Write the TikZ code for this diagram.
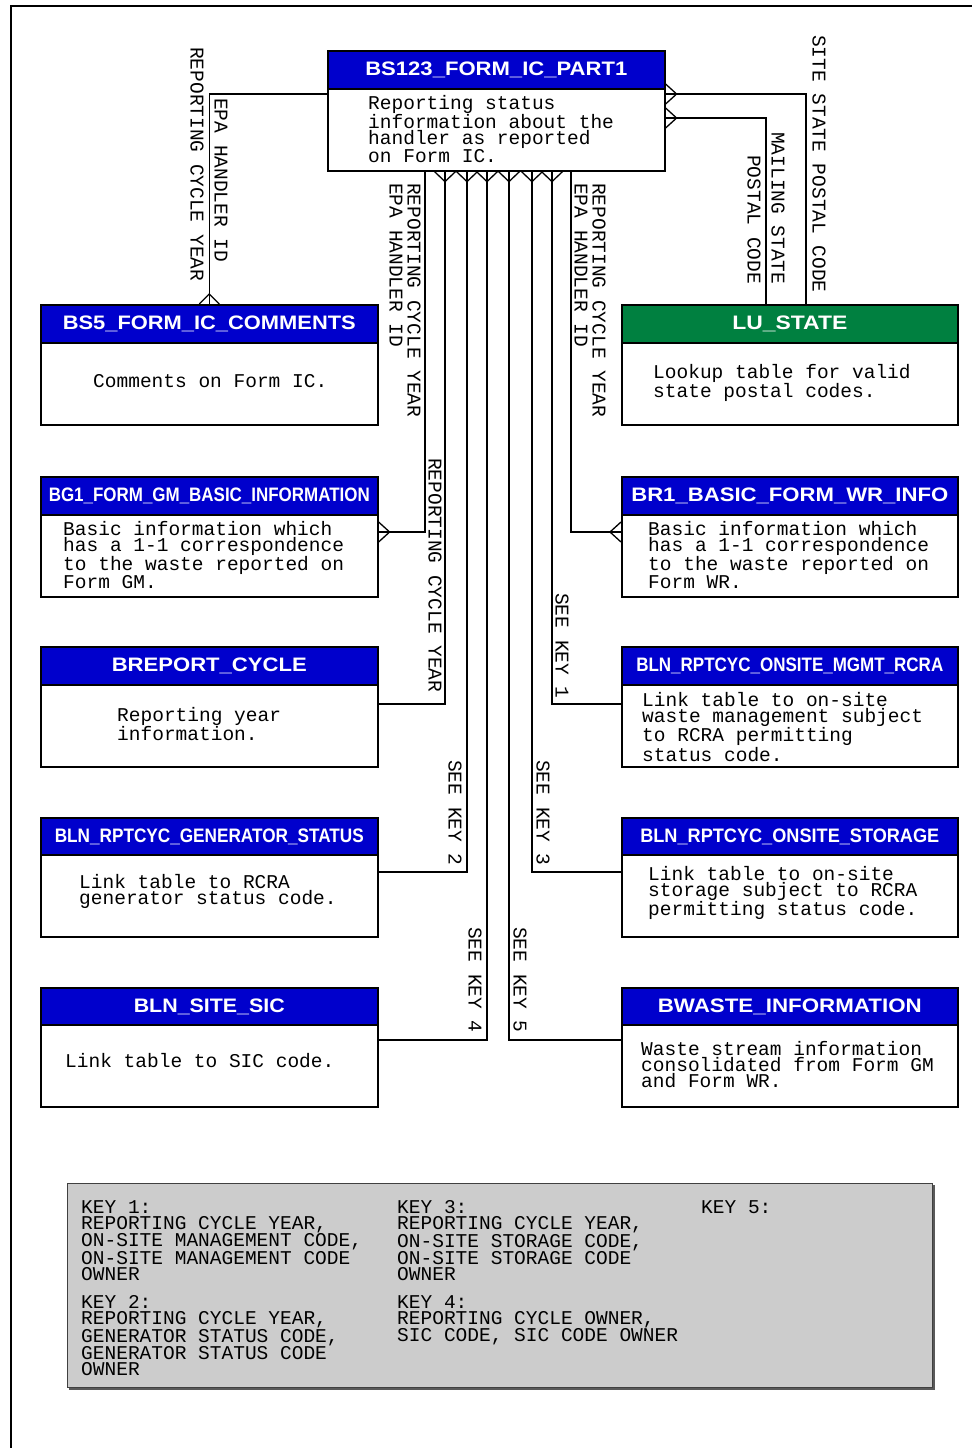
\documentclass[tikz,border=0pt]{standalone}
\usepackage{fontspec}
\usepackage{graphicx}
\usetikzlibrary{calc}
\newfontfamily\monof{Liberation Mono}
\newfontfamily\hdrf{Liberation Sans}
\definecolor{hblue}{RGB}{0,0,204}
\definecolor{hgreen}{RGB}{0,128,64}
\definecolor{keygray}{RGB}{204,204,204}
\newcommand\hw[2]{\resizebox{#1}{\height}{#2}}
\tikzset{
  hdrbox/.style={draw=black, line width=1.6pt, fill=hblue, text=white,
    font=\hdrf\bfseries\fontsize{19.5}{20}\selectfont, minimum height=38pt,
    inner sep=0pt, anchor=north west},
  bodybox/.style={draw=black, line width=1.6pt, fill=white, minimum height=82pt,
    inner sep=0pt, anchor=north west},
  desc/.style={font=\monof\fontsize{19.5}{16}\selectfont, align=left,
    inner sep=0pt, anchor=west},
  lbl/.style={font=\monof\fontsize{19.5}{16}\selectfont, rotate=-90,
    anchor=west, inner sep=0pt},
  keytxt/.style={font=\monof\fontsize{19.5}{16.3}\selectfont, align=left,
    inner sep=0pt, anchor=north west},
  conn/.style={line width=1.4pt},
  crow/.style={line width=1.3pt},
}
\begin{document}
\begin{tikzpicture}[x=1pt,y=-1pt]
\useasboundingbox (0,0) rectangle (972,1448);
% outer frame
\draw[line width=1.6pt] (11,1448) -- (11,6) -- (972,6);

% ---------- entities ----------
% central
\node[hdrbox, minimum width=337pt] (bs123) at (327,50) {\hw{262pt}{BS123\_FORM\_IC\_PART1}};
\node[bodybox, minimum width=337pt] (bs123b) at (327,88) {};
% left column
\node[hdrbox, minimum width=337pt] (bs5) at (40,304) {\hw{293pt}{BS5\_FORM\_IC\_COMMENTS}};
\node[bodybox, minimum width=337pt] (bs5b) at (40,342) {};
\node[hdrbox, minimum width=337pt] (bg1) at (40,476) {\hw{321pt}{BG1\_FORM\_GM\_BASIC\_INFORMATION}};
\node[bodybox, minimum width=337pt] (bg1b) at (40,514) {};
\node[hdrbox, minimum width=337pt] (brep) at (40,646) {\hw{195pt}{BREPORT\_CYCLE}};
\node[bodybox, minimum width=337pt] (brepb) at (40,684) {};
\node[hdrbox, minimum width=337pt] (gen) at (40,817) {\hw{309pt}{BLN\_RPTCYC\_GENERATOR\_STATUS}};
\node[bodybox, minimum width=337pt] (genb) at (40,854) {};
\node[hdrbox, minimum width=337pt] (sic) at (40,987) {\hw{151pt}{BLN\_SITE\_SIC}};
\node[bodybox, minimum width=337pt] (sicb) at (40,1024) {};
% right column
\node[hdrbox, fill=hgreen, minimum width=336pt] (lu) at (621,304) {\hw{115pt}{LU\_STATE}};
\node[bodybox, minimum width=336pt] (lub) at (621,342) {};
\node[hdrbox, minimum width=336pt] (br1) at (621,476) {\hw{317pt}{BR1\_BASIC\_FORM\_WR\_INFO}};
\node[bodybox, minimum width=336pt] (br1b) at (621,514) {};
\node[hdrbox, minimum width=336pt] (rcra) at (621,646) {\hw{307pt}{BLN\_RPTCYC\_ONSITE\_MGMT\_RCRA}};
\node[bodybox, minimum width=336pt] (rcrab) at (621,684) {};
\node[hdrbox, minimum width=336pt] (sto) at (621,817) {\hw{299pt}{BLN\_RPTCYC\_ONSITE\_STORAGE}};
\node[bodybox, minimum width=336pt] (stob) at (621,854) {};
\node[hdrbox, minimum width=336pt] (bw) at (621,987) {\hw{264pt}{BWASTE\_INFORMATION}};
\node[bodybox, minimum width=336pt] (bwb) at (621,1024) {};

% ---------- descriptions ----------
\node[desc] (bs123t) at (368,129) {Reporting status\\information about the\\handler as reported\\on Form IC.};
\node[desc] (bs5t) at (93,381) {Comments on Form IC.};
\node[desc] (bg1t) at (63,555) {Basic information which\\has a 1-1 correspondence\\to the waste reported on\\Form GM.};
\node[desc] (brept) at (117,724) {Reporting year\\information.};
\node[desc] (gent) at (79,891) {Link table to RCRA\\generator status code.};
\node[desc] (sict) at (65,1061) {Link table to SIC code.};
\node[desc] (lut) at (653,383) {Lookup table for valid\\state postal codes.};
\node[desc] (br1t) at (648,555) {Basic information which\\has a 1-1 correspondence\\to the waste reported on\\Form WR.};
\node[desc] (rcrat) at (642,727) {Link table to on-site\\waste management subject\\to RCRA permitting\\status code.};
\node[desc] (stot) at (648,893) {Link table to on-site\\storage subject to RCRA\\permitting status code.};
\node[desc] (bwt) at (641,1065) {Waste stream information\\consolidated from Form GM\\and Form WR.};

% ---------- connectors ----------
\draw[conn] (bs5.north) |- (bs123b.west |- 0,94);
\draw[conn] (bs123b.east |- 0,94) -| (lu.north -| 806,0);
\draw[conn] (bs123b.east |- 0,118) -| (lu.north -| 766,0);
\draw[conn] (bs123b.south -| 425,0) |- (bg1b.east |- 0,532);
\draw[conn] (bs123b.south -| 445,0) |- (brepb.east |- 0,704);
\draw[conn] (bs123b.south -| 467,0) |- (genb.east |- 0,872);
\draw[conn] (bs123b.south -| 487,0) |- (sicb.east |- 0,1040);
\draw[conn] (bs123b.south -| 509,0) |- (bwb.west |- 0,1040);
\draw[conn] (bs123b.south -| 532,0) |- (stob.west |- 0,872);
\draw[conn] (bs123b.south -| 552,0) |- (rcrab.west |- 0,704);
\draw[conn] (bs123b.south -| 571,0) |- (br1b.west |- 0,532);

% ---------- crow's feet ----------
\draw[crow] ($(bs5.north)+(-10,0)$) -- ($(bs5.north)+(0,-10)$) -- ($(bs5.north)+(10,0)$);
\foreach \yy in {94,118}{
  \draw[crow] ($(bs123b.east |- 0,\yy)+(0,-10)$) -- ($(bs123b.east |- 0,\yy)+(11,0)$) -- ($(bs123b.east |- 0,\yy)+(0,10)$);
}
\foreach \xx in {445,467,487,509,532,552}{
  \draw[crow] ($(bs123b.south -| \xx,0)+(-10.5,0)$) -- ($(bs123b.south -| \xx,0)+(0,10)$) -- ($(bs123b.south -| \xx,0)+(10.5,0)$);
}
\draw[crow] ($(bg1b.east |- 0,532)+(0,-10)$) -- ($(bg1b.east |- 0,532)+(11,0)$) -- ($(bg1b.east |- 0,532)+(0,10)$);
\draw[crow] ($(br1b.west |- 0,532)+(0,-10)$) -- ($(br1b.west |- 0,532)+(-11,0)$) -- ($(br1b.west |- 0,532)+(0,10)$);

% ---------- connector labels ----------
\node[lbl] (l1) at (197,47) {REPORTING CYCLE YEAR};
\node[lbl] (l2) at (221,98) {EPA HANDLER ID};
\node[lbl] (l3) at (414,183) {REPORTING CYCLE YEAR};
\node[lbl] (l4) at (396,183) {EPA HANDLER ID};
\node[lbl] (l5) at (599,183) {REPORTING CYCLE YEAR};
\node[lbl] (l6) at (581,183) {EPA HANDLER ID};
\node[lbl] (l7) at (778,132) {MAILING STATE};
\node[lbl] (l8) at (754,155) {POSTAL CODE};
\node[lbl] (l9) at (819,35) {SITE STATE POSTAL CODE};
\node[lbl] (l10) at (435,458) {REPORTING CYCLE YEAR};
\node[lbl] (l11) at (562,593) {SEE KEY 1};
\node[lbl] (l12) at (455,760) {SEE KEY 2};
\node[lbl] (l13) at (543,760) {SEE KEY 3};
\node[lbl] (l14) at (475,927) {SEE KEY 4};
\node[lbl] (l15) at (520,927) {SEE KEY 5};

% ---------- key ----------
\fill[black!65] (69,1185) rectangle (934.5,1389.5);
\node[draw=black!75, line width=1.2pt, fill=keygray, minimum width=865pt,
  minimum height=204pt, inner sep=0pt, anchor=north west] (key) at (67,1183) {};
\node[keytxt] (k1) at (81,1200) {KEY 1:\\REPORTING CYCLE YEAR,\\ON-SITE MANAGEMENT CODE,\\ON-SITE MANAGEMENT CODE\\OWNER};
\node[keytxt] (k2) at (81,1295) {KEY 2:\\REPORTING CYCLE YEAR,\\GENERATOR STATUS CODE,\\GENERATOR STATUS CODE\\OWNER};
\node[keytxt] (k3) at (397,1200) {KEY 3:\\REPORTING CYCLE YEAR,\\ON-SITE STORAGE CODE,\\ON-SITE STORAGE CODE\\OWNER};
\node[keytxt] (k4) at (397,1295) {KEY 4:\\REPORTING CYCLE OWNER,\\SIC CODE, SIC CODE OWNER};
\node[keytxt] (k5) at (701,1200) {KEY 5:};
\end{tikzpicture}
\end{document}
